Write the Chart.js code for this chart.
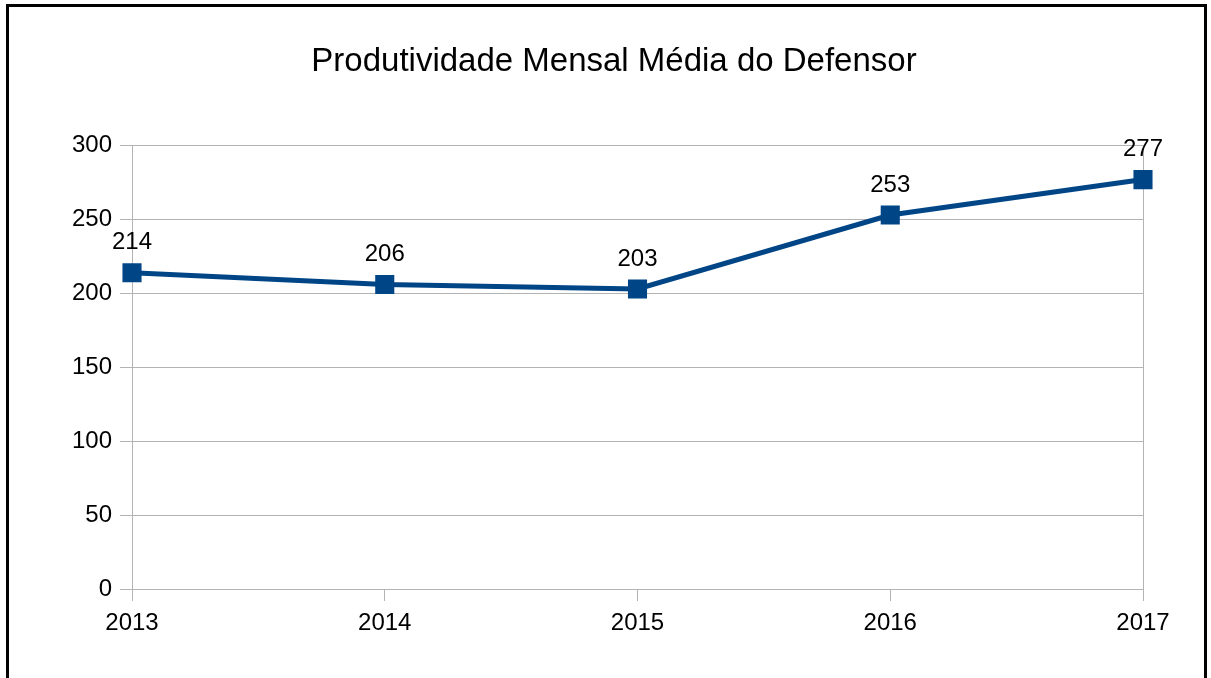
<!DOCTYPE html>
<html>
<head>
<meta charset="utf-8">
<script src="https://cdn.jsdelivr.net/npm/chart.js@4/dist/chart.umd.min.js"></script>
<style>
  html, body { margin: 0; padding: 0; background: #fff; }
  #wrap { position: relative; width: 1211px; height: 678px; }
</style>
</head>
<body>
<div id="wrap"><canvas id="c" width="1211" height="678"></canvas></div>
<script>
const chartTitle = "Produtividade Mensal Média do Defensor";
const categories = ["2013", "2014", "2015", "2016", "2017"];
const values = [214, 206, 203, 253, 277];
const yTicks = [0, 50, 100, 150, 200, 250, 300];

const FONT = "'Liberation Sans', Arial, sans-serif";
const LINE_COLOR = "#004586";
const GRID = "#b3b3b3";

const frame = {
  id: 'frame',
  afterLayout(chart) {
    // centre the title on the whole framed picture, not only on the plot box
    if (chart.titleBlock) {
      chart.titleBlock.left = 17;
      chart.titleBlock.right = 1211;
    }
  },
  beforeDraw(chart) {
    const ctx = chart.ctx;
    ctx.save();
    ctx.fillStyle = '#fff';
    ctx.fillRect(0, 0, chart.width, chart.height);
    ctx.fillStyle = '#000';
    ctx.fillRect(6, 4, 1200, 3);   // top
    ctx.fillRect(6, 4, 3, 680);    // left
    ctx.fillRect(1204, 4, 3, 680); // right
    ctx.restore();
  }
};

const dataLabels = {
  id: 'dataLabels',
  afterDatasetsDraw(chart) {
    const ctx = chart.ctx;
    const meta = chart.getDatasetMeta(0);
    ctx.save();
    ctx.font = "24px " + FONT;
    ctx.fillStyle = '#000';
    ctx.textAlign = 'center';
    ctx.textBaseline = 'middle';
    meta.data.forEach((pt, i) => {
      ctx.fillText(String(values[i]), pt.x, pt.y - 30);
    });
    ctx.restore();
  }
};

new Chart(document.getElementById('c'), {
  type: 'line',
  data: {
    labels: categories,
    datasets: [{
      data: values,
      borderColor: LINE_COLOR,
      backgroundColor: LINE_COLOR,
      borderWidth: 5,
      pointStyle: 'rect',
      pointRadius: 13.5,
      pointHoverRadius: 13.5,
      pointBorderWidth: 0,
      tension: 0,
      fill: false
    }]
  },
  options: {
    responsive: false,
    animation: false,
    events: [],
    layout: { padding: { left: 0, right: 68, top: 0, bottom: 0 } },
    plugins: {
      legend: { display: false },
      tooltip: { enabled: false },
      title: {
        display: true,
        text: chartTitle,
        color: '#000',
        font: { family: FONT, size: 33, weight: 'normal', lineHeight: 1.2 },
        padding: { top: 42, bottom: 64 }
      }
    },
    scales: {
      x: {
        type: 'category',
        offset: false,
        afterFit(scale) { scale.height = 89; },
        grid: {
          color: (c) => (c.index === 0 || c.index === categories.length - 1) ? GRID : 'rgba(0,0,0,0)',
          tickColor: GRID,
          tickLength: 12,
          lineWidth: 1,
          drawOnChartArea: true
        },
        border: { display: true, color: GRID, width: 1 },
        ticks: {
          color: '#000',
          font: { family: FONT, size: 24 },
          padding: 8,
          maxRotation: 0,
          autoSkip: false
        }
      },
      y: {
        min: 0,
        max: 300,
        afterFit(scale) { scale.width = 132; },
        afterBuildTicks(scale) { scale.ticks = yTicks.map(v => ({ value: v })); },
        grid: {
          color: GRID,
          tickColor: GRID,
          tickLength: 12,
          lineWidth: 1
        },
        border: { display: true, color: GRID, width: 1 },
        ticks: {
          color: '#000',
          font: { family: FONT, size: 24 },
          padding: 8
        }
      }
    }
  },
  plugins: [frame, dataLabels]
});
</script>
</body>
</html>
